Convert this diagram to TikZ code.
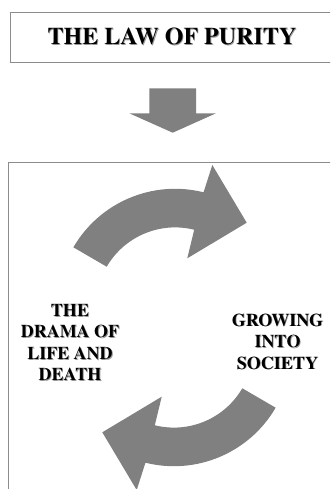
\documentclass[tikz,border=0pt]{standalone}
\usepackage{fontspec}
\newfontfamily\timesbold{texgyretermes-bold.otf}
\definecolor{arrowgray}{RGB}{128,128,128}
\definecolor{linegray}{RGB}{140,140,140}
\definecolor{shadowgray}{RGB}{150,150,150}
\begin{document}
\begin{tikzpicture}[x=1pt,y=-1pt,
  boxline/.style={draw=linegray, line width=0.9pt},
  blockarrow/.style={fill=arrowgray},
  lbl/.style={font=\fontsize{18}{21.5}\selectfont\timesbold, align=center, inner sep=0pt},
  ttl/.style={font=\fontsize{24}{28}\selectfont\timesbold, inner sep=0pt},
  shadowtxt/.style={text=shadowgray}]
\useasboundingbox (0,0) rectangle (330,489);
\fill[white] (0,0) rectangle (330,489);
\clip (0,0) rectangle (330,489);
% title box
\draw[boxline] (10.5,12) rectangle (345,62);
\node[ttl, shadowtxt] (titleshadow) at (172.9,37.6) {THE LAW OF PURITY};
\node[ttl] (title) at (172,36.7) {THE LAW OF PURITY};
% down block arrow
\fill[blockarrow] (149.3,88.3) -- (196,88.3) -- (196,113.3) -- (216,113.3)
  -- (172.7,132.7) -- (129.3,113.3) -- (149.3,113.3) -- cycle;
% main box
\draw[boxline] (345,162.7) -- (8.5,162.7) -- (8.5,500);
% curved arrows
\def\curvedarrow{(73.37,247.3) arc[start angle=-149.8, end angle=-76, radius=117.7]
  -- (212.3,165) -- (246.7,222.7) -- (187.3,258.3)
  -- (194.2,229.75) arc[start angle=-76, end angle=-149.8, radius=79.1] -- cycle}
\fill[blockarrow] \curvedarrow;
\begin{scope}[rotate around={180:(174.5,327.5)}]
\fill[blockarrow] \curvedarrow;
\end{scope}
% labels
\node[lbl, shadowtxt] (dramashadow) at (70.8,343.3) {THE\\DRAMA OF\\LIFE AND\\DEATH};
\node[lbl] (drama) at (70,342.5) {THE\\DRAMA OF\\LIFE AND\\DEATH};
\node[lbl, shadowtxt] (growingshadow) at (278.3,342.3) {GROWING\\INTO\\SOCIETY};
\node[lbl] (growing) at (277.5,341.5) {GROWING\\INTO\\SOCIETY};
\end{tikzpicture}
\end{document}
